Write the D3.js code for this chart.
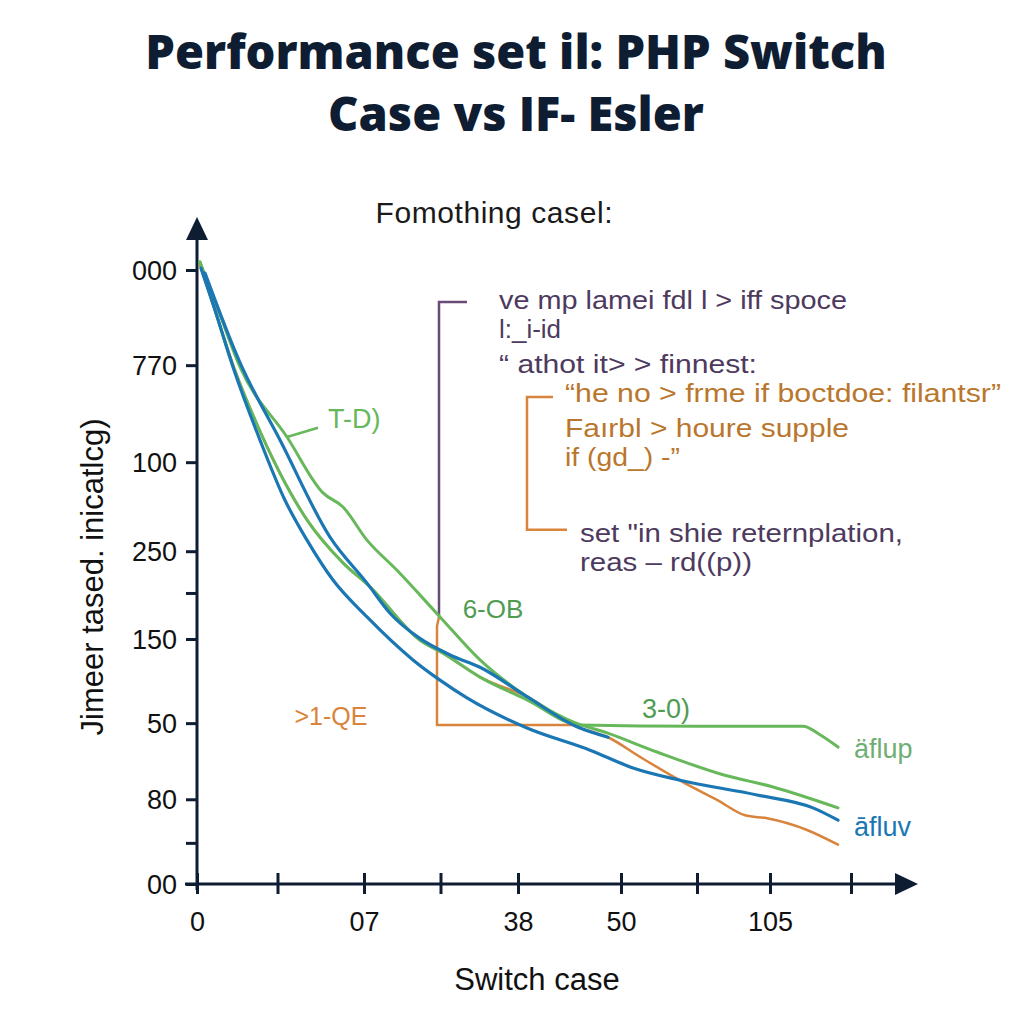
<!DOCTYPE html>
<html><head><meta charset="utf-8">
<script src="https://cdn.jsdelivr.net/npm/d3@7"></script>
<style>
html,body{margin:0;padding:0;background:#ffffff;}
svg{display:block;}
</style></head>
<body>
<svg id="chart" width="1024" height="1024"></svg>
<script>
// ---------- data ----------
const titleLines = ["Performance set il: PHP Switch", "Case vs IF- Esler"];
const subtitle = "Fomothing casel:";
const xLabel = "Switch case";
const yLabel = "Jimeer tased. inicatlcg)";

const xTickValues = [0, 16.1, 33.4, 48.7, 64.2, 84.8, 100, 114.6, 130.8];
const xTickLabels = ["0", "", "07", "", "38", "50", "", "105", ""];
const yTickValues = [1000, 845, 687, 542, 474, 399, 262, 138, 67, 0];
const yTickLabels = ["000", "770", "100", "250", "", "150", "50", "80", "", "00"];

const blueLowX = [0.8, 3.6, 7.2, 12.6, 17.6, 22, 27.2, 34, 43.2, 48.6, 54, 66, 78.6, 87.2, 96.6, 112, 123.2, 128.2];
const blueLowY = [1003, 935, 842, 723, 625, 560, 495, 435, 365, 332, 303, 254, 218, 189, 169, 145, 124, 104];

const blueUpX = [1.6, 8.6, 16.6, 26.6, 34, 38.6, 44.2, 50.6, 56.6, 66, 76, 82.2];
const blueUpY = [995, 849, 723, 565, 490, 441, 402, 373, 353, 305, 256, 239];

const greenFlatX = [0.6, 3.6, 6.6, 11.6, 16.6, 22, 29.2, 34.6, 44.6, 49.2, 56.6, 66, 76.6, 100.6, 121.2, 124.6, 128.2];
const greenFlatY = [1013, 935, 858, 756, 669, 593, 523, 484, 397, 376, 337, 300, 259, 257, 257, 243, 223];

const greenUpX = [0.6, 4.6, 8.6, 18, 25.2, 29.2, 34, 40, 48.6, 56.6, 63.2, 68.6, 75.2, 82, 92, 105.2, 115.2, 128.2];
const greenUpY = [1013, 927, 842, 728, 637, 614, 560, 511, 435, 365, 321, 292, 264, 246, 215, 178, 158, 124];

const orangeX = [0.6, 4.2, 7.6, 11.6, 16.6, 22, 29.2, 34.6, 44.6, 49.2, 56.6, 66, 76, 82.2, 88.6, 97.2, 104, 109.6, 114, 122, 128.2];
const orangeY = [1008, 919, 837, 756, 669, 593, 523, 484, 397, 376, 337, 305, 256, 239, 207, 166, 137, 112, 107, 88, 64];

// annotation brackets (data units)
const purpleBracketX = [54, 48.4, 48.4];
const purpleBracketY = [948, 948, 435];
const orangeHookX = [48.4, 48, 48, 76];
const orangeHookY = [435, 420, 259, 259];
const orangeBracketX = [71.2, 66, 66, 74];
const orangeBracketY = [793, 793, 577, 577];
const leaderX = [18, 24.2];
const leaderY = [728, 743];

const purpleNotes = [
  {t: "ve mp lamei fdl l > iff spoce", x: 499, y: 309, w: 348},
  {t: "l:_i-id", x: 499, y: 338, w: 62},
  {t: "\u201c athot it> > finnest:", x: 499, y: 373, w: 258},
  {t: "set \"in shie reternplation,", x: 580, y: 542, w: 323},
  {t: "reas \u2013 rd((p))", x: 580, y: 571, w: 172}
];
const orangeNotes = [
  {t: "\u201che no > frme if boctdoe: filantsr\u201d", x: 565, y: 402, w: 436},
  {t: "Fa\u0131rbl > houre supple", x: 565, y: 437, w: 284},
  {t: "if (gd_) -\u201d", x: 565, y: 466, w: 115}
];

// ---------- drawing ----------
const C = {navy: "#0f1d33", blue: "#1a77b3", green: "#66b85a", orange: "#d9843c", purple: "#6a4b78", purpleText: "#4d3a5e", orangeText: "#b9762d"};
const svg = d3.select("#chart");
const x = d3.scaleLinear().domain([0, 130]).range([197, 847]);
const y = d3.scaleLinear().domain([0, 1000]).range([884, 270]);
const zip = (xs, ys) => xs.map((v, i) => [v, ys[i]]);
const line = d3.line().x(d => x(d[0])).y(d => y(d[1])).curve(d3.curveMonotoneX);
const poly = d3.line().x(d => x(d[0])).y(d => y(d[1]));
const font = "'Liberation Sans', Arial, sans-serif";

// title
svg.selectAll(".title").data(titleLines).join("text")
  .attr("x", 516).attr("y", (d, i) => 69 + i * 62)
  .attr("text-anchor", "middle").attr("font-family", "'Open Sans', sans-serif")
  .attr("font-weight", 800).attr("font-size", 47).attr("fill", C.navy).text(d => d);
svg.append("text").attr("x", 494).attr("y", 223).attr("text-anchor", "middle")
  .attr("font-family", font).attr("font-size", 30).attr("fill", "#1a1a1a").attr("textLength", 237).text(subtitle);

// axes
const gx = svg.append("g").attr("transform", "translate(0,884)")
  .call(d3.axisBottom(x).tickValues(xTickValues).tickSize(0).tickFormat((d, i) => xTickLabels[i]));
gx.select(".domain").remove();
gx.selectAll(".tick line").remove();
gx.selectAll(".tick").append("line").attr("y1", -11).attr("y2", 10).attr("stroke", C.navy).attr("stroke-width", 3);
gx.selectAll(".tick text").attr("dy", 0).attr("y", 47).attr("font-family", font).attr("font-size", 27).attr("fill", "#111");
svg.append("line").attr("x1", 185).attr("x2", 900).attr("y1", 884).attr("y2", 884).attr("stroke", C.navy).attr("stroke-width", 3);
svg.append("path").attr("d", "M918,884 L895,873 L895,895 Z").attr("fill", C.navy);

const gy = svg.append("g").attr("transform", "translate(197,0)")
  .call(d3.axisLeft(y).tickValues(yTickValues).tickSize(0).tickFormat((d, i) => yTickLabels[i]));
gy.select(".domain").remove();
gy.selectAll(".tick").append("line").attr("x1", -11).attr("x2", 0).attr("stroke", C.navy).attr("stroke-width", 3);
gy.selectAll(".tick text").attr("x", -20).attr("dy", "0.35em").attr("font-family", font).attr("font-size", 27).attr("fill", "#111");
svg.append("line").attr("x1", 197).attr("x2", 197).attr("y1", 890).attr("y2", 236).attr("stroke", C.navy).attr("stroke-width", 3);
svg.append("path").attr("d", "M197,217 L186,240 L208,240 Z").attr("fill", C.navy);

svg.append("text").attr("x", 537).attr("y", 990).attr("text-anchor", "middle")
  .attr("font-family", font).attr("font-size", 31).attr("fill", "#111").text(xLabel);
svg.append("text").attr("transform", "translate(103,577) rotate(-90)").attr("text-anchor", "middle")
  .attr("font-family", font).attr("font-size", 31).attr("fill", "#111").text(yLabel);

// annotation brackets
svg.append("path").attr("d", poly(zip(purpleBracketX, purpleBracketY))).attr("fill", "none").attr("stroke", C.purple).attr("stroke-width", 2.5);
svg.append("path").attr("d", poly(zip(orangeBracketX, orangeBracketY))).attr("fill", "none").attr("stroke", C.orange).attr("stroke-width", 2.5);
svg.append("path").attr("d", poly(zip(orangeHookX, orangeHookY))).attr("fill", "none").attr("stroke", C.orange).attr("stroke-width", 2.5);

// series
const series = [
  {xs: orangeX, ys: orangeY, c: C.orange, w: 2.5},
  {xs: greenFlatX, ys: greenFlatY, c: C.green, w: 3},
  {xs: greenUpX, ys: greenUpY, c: C.green, w: 3},
  {xs: blueUpX, ys: blueUpY, c: C.blue, w: 3.2},
  {xs: blueLowX, ys: blueLowY, c: C.blue, w: 3.2}
];
svg.selectAll(".series").data(series).join("path")
  .attr("d", d => line(zip(d.xs, d.ys))).attr("fill", "none")
  .attr("stroke", d => d.c).attr("stroke-width", d => d.w).attr("stroke-linejoin", "round").attr("stroke-linecap", "round");
svg.append("path").attr("d", poly(zip(leaderX, leaderY))).attr("stroke", C.green).attr("stroke-width", 2.5);

// labels on chart
const lab = (t, px, py, col, size, anchor) => svg.append("text").attr("x", px).attr("y", py)
  .attr("font-family", font).attr("font-size", size).attr("fill", col).attr("text-anchor", anchor || "start").text(t);
lab("T-D)", 328, 428, C.green, 27);
lab("6-OB", 493, 618, "#4f9c52", 26, "middle");
lab(">1-QE", 331, 725, C.orange, 25, "middle");
lab("3-0)", 666, 718, "#4f9c52", 27, "middle");
lab("\u00e4flup", 854, 758, "#6fae75", 27);
lab("a\u0304fluv", 854, 836, C.blue, 27);

const note = (n, col) => lab(n.t, n.x, n.y, col, 26).attr("textLength", n.w).attr("lengthAdjust", "spacingAndGlyphs");
purpleNotes.forEach(n => note(n, C.purpleText));
orangeNotes.forEach(n => note(n, C.orangeText));
</script>
</body></html>
